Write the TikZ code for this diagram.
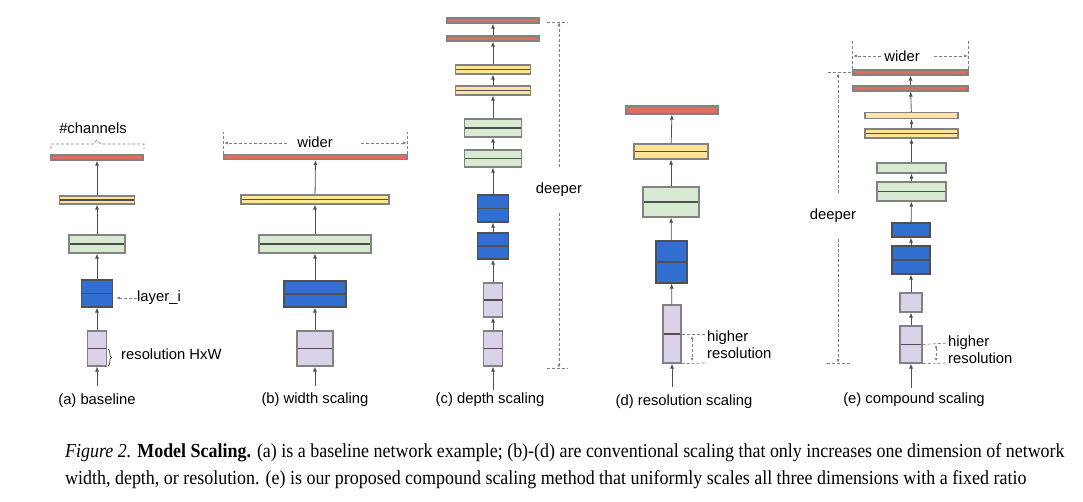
\documentclass[tikz,border=0pt]{standalone}
\usepackage{fontspec}
\setmainfont{Liberation Serif}
\setsansfont{Liberation Sans}
\usetikzlibrary{arrows.meta,positioning,calc,decorations.pathreplacing}

\definecolor{redfill}{RGB}{224,108,96}
\definecolor{yelfill}{RGB}{255,229,153}
\definecolor{grnfill}{RGB}{217,234,211}
\definecolor{blufill}{RGB}{48,110,208}
\definecolor{purfill}{RGB}{217,210,233}
\definecolor{edge}{RGB}{130,130,130}
\definecolor{darkedge}{RGB}{80,80,80}

\tikzset{
  bar/.style 2 args={draw=edge, line width=1.2pt, inner sep=0pt,
    minimum width=#1pt, minimum height=#2pt},
  half/.style={path picture={\draw[darkedge, line width=1.3pt]
    (path picture bounding box.west) -- (path picture bounding box.east);}},
  redbar/.style={fill=redfill},
  yelbar/.style={fill=yelfill},
  grnbar/.style={fill=grnfill},
  blubar/.style={fill=blufill, draw=darkedge},
  purbar/.style={fill=purfill},
  flow/.style={-{Latex[length=5pt,width=4pt]}, draw=darkedge, line width=0.8pt},
  dim/.style={draw=gray, line width=0.7pt, dash pattern=on 3pt off 2pt},
  dimtip/.style={dim, -{Latex[length=4pt,width=3pt]}},
  lbl/.style={font=\sffamily\fontsize{14.8}{17}\selectfont, inner sep=0pt},
  capline/.style={anchor=base west, inner sep=0pt, font=\fontsize{16.5}{20}\selectfont}
}

\begin{document}
\begin{tikzpicture}[x=1pt, y=-1pt]
\useasboundingbox (0,0) rectangle (1083,501);

% (a) baseline
\node[bar={19}{35}, purbar, half] (a1) at (97,348.5) {};
\node[bar={31}{27}, blubar, half] (a2) at (97,293.5) {};
\node[bar={56}{18}, grnbar, half] (a3) at (97,244) {};
\node[bar={75}{8}, yelbar, half] (a4) at (97,200) {};
\node[bar={92}{5}, redbar] (a5) at (97,157.5) {};
\coordinate (ain) at (97,386);
\draw[flow] (ain) -- (a1);
\foreach \i/\j in {1/2,2/3,3/4,4/5}
  \draw[flow] (a\i) -- (a\j);
\draw[dim] (51,149) -- (51,144) -- (93.5,144) -- (97,140) -- (100.5,144) -- (144,144) -- (144,149);
\node[lbl] (chan) at (93,128) {\#channels};
\node[lbl, anchor=west] (layeri) at (137,298) {layer\_i};
\coordinate (layerend) at (116,298);
\draw[dimtip] (layeri) -- (layerend);
\draw[darkedge, line width=0.8pt, decorate, decoration={brace, amplitude=3.5pt}] (108,349) -- (108,366);
\node[lbl, anchor=west] (resa) at (121,354) {resolution HxW};
\node[lbl] (capa) at (97,401) {(a) baseline};

% (b) width scaling
\node[bar={36}{35}, purbar, half] (b1) at (315,348.5) {};
\node[bar={62}{26}, blubar, half] (b2) at (315,294) {};
\node[bar={112}{18}, grnbar, half] (b3) at (315,244) {};
\node[bar={148}{9}, yelbar, half] (b4) at (315,199.5) {};
\node[bar={183}{5}, redbar] (b5) at (315.5,157) {};
\coordinate (bin) at (315,386);
\draw[flow] (bin) -- (b1);
\foreach \i/\j in {1/2,2/3,3/4,4/5}
  \draw[flow] (b\i) -- (b\j);
\node[lbl] (widerb) at (315,142) {wider};
\coordinate (bl) at (224,143);
\coordinate (br) at (407,143);
\draw[dim] (b5.north west) -- ++(0,-22);
\draw[dim] (b5.north east) -- ++(0,-22);
\draw[dimtip] ($(widerb.west)+(-10,1)$) -- (bl);
\draw[dimtip] ($(widerb.east)+(28,1)$) -- (br);
\node[lbl] (capb) at (315,400) {(b) width scaling};

% (c) depth scaling
\node[bar={19}{35}, purbar, half] (c1) at (493,348.5) {};
\node[bar={19}{34}, purbar, half] (c2) at (493,300) {};
\node[bar={31}{26}, blubar, half] (c3) at (493,246) {};
\node[bar={31}{27}, blubar, half] (c4) at (493,208.5) {};
\node[bar={57}{17}, grnbar, half] (c5) at (493,158.5) {};
\node[bar={57}{18}, grnbar, half] (c6) at (493,128) {};
\node[bar={75}{9}, yelbar, half] (c7) at (493,90.5) {};
\node[bar={75}{9}, yelbar, half] (c8) at (493,69.5) {};
\node[bar={92}{5}, redbar] (c9) at (493,38.5) {};
\node[bar={92}{5}, redbar] (c10) at (493,20.5) {};
\coordinate (cin) at (493,390);
\draw[flow] (cin) -- (c1);
\foreach \i [evaluate=\i as \j using int(\i+1)] in {1,...,9}
  \draw[flow] (c\i) -- (c\j);
\node[lbl] (deepc) at (559,190) {deeper};
\coordinate (ctop) at (559,22);
\coordinate (cbot) at (559,368);
\draw[dimtip] ($(deepc.north)+(0,-16)$) -- (ctop);
\draw[dimtip] ($(deepc.south)+(0,16)$) -- (cbot);
\draw[dim] (547,22) -- (568,22);
\draw[dim] (547,368) -- (568,368);
\node[lbl] (capc) at (490,400) {(c) depth scaling};

% (d) resolution scaling
\node[bar={18}{58}, purbar, half] (d1) at (672,334) {};
\node[bar={31}{42}, blubar, half] (d2) at (671.5,262) {};
\node[bar={56}{30}, grnbar, half] (d3) at (671,202) {};
\node[bar={74}{15}, yelbar, half] (d4) at (671,151.5) {};
\node[bar={92}{8}, redbar] (d5) at (672,110) {};
\coordinate (din) at (672,387);
\draw[flow] (din) -- (d1);
\foreach \i/\j in {1/2,2/3,3/4,4/5}
  \draw[flow] (d\i) -- (d\j);
\draw[dim] (d1.east) -- (705,334);
\draw[dim] (d1.south east) -- (705,363);
\coordinate (dtop) at (692,336);
\coordinate (dbot) at (692,361);
\draw[dim, {Latex[length=3pt,width=3pt]}-{Latex[length=3pt,width=3pt]}] (dtop) -- (dbot);
\node[lbl, anchor=west, align=left] (resd) at (707,345) {higher\\resolution};
\node[lbl] (capd) at (684,402) {(d) resolution scaling};

% (e) compound scaling
\node[bar={22}{37}, purbar, half] (e1) at (911,344.5) {};
\node[bar={22}{19}, purbar] (e2) at (911,302.5) {};
\node[bar={38}{28}, blubar, half] (e3) at (911,260) {};
\node[bar={38}{14}, blubar] (e4) at (911,230) {};
\node[bar={69}{19}, grnbar, half] (e5) at (911.5,191.5) {};
\node[bar={69}{10}, grnbar] (e6) at (911.5,168) {};
\node[bar={93}{9}, yelbar, half] (e7) at (911.5,133.5) {};
\node[bar={93}{6}, yelbar] (e8) at (911.5,115.5) {};
\node[bar={115}{5}, redbar] (e9) at (910.5,88.5) {};
\node[bar={115}{5}, redbar] (e10) at (910.5,72.5) {};
\coordinate (ein) at (911,388);
\draw[flow] (ein) -- (e1);
\foreach \i [evaluate=\i as \j using int(\i+1)] in {1,...,9}
  \draw[flow] (e\i) -- (e\j);
\node[lbl] (widere) at (902,56) {wider};
\coordinate (el) at (853,56);
\coordinate (er) at (968,56);
\draw[dim] (e10.north west) -- ++(0,-28);
\draw[dim] (e10.north east) -- ++(0,-28);
\draw[dimtip] ($(widere.west)+(-3,0)$) -- (el);
\draw[dimtip] ($(widere.east)+(14,0)$) -- (er);
\node[lbl] (deepe) at (833,216) {deeper};
\coordinate (etop) at (838,73);
\coordinate (ebot) at (838,363);
\draw[dimtip] ($(deepe.north)+(5,-16)$) -- (etop);
\draw[dimtip] ($(deepe.south)+(5,16)$) -- (ebot);
\draw[dim] (828,72) -- (853,72);
\draw[dim] (827,363) -- (850,363);
\draw[dim] (e1.east) -- (948,343);
\draw[dim] (e1.south east) -- (948,363);
\coordinate (etopr) at (936,345);
\coordinate (ebotr) at (936,361);
\draw[dim, {Latex[length=3pt,width=3pt]}-{Latex[length=3pt,width=3pt]}] (etopr) -- (ebotr);
\node[lbl, anchor=west, align=left] (rese) at (948,350) {higher\\resolution};
\node[lbl] (cape) at (914,400) {(e) compound scaling};

% caption
\node[capline] (cap1) at (65,457)
  {\scalebox{1.088}[1.2]{\textit{Figure 2.} \textbf{Model Scaling.} (a) is a baseline network example; (b)-(d) are conventional scaling that only increases one dimension of network}};
\node[capline] (cap2) at (65,484)
  {\scalebox{1.088}[1.2]{width, depth, or resolution. (e) is our proposed compound scaling method that uniformly scales all three dimensions with a fixed ratio}};
\end{tikzpicture}
\end{document}
